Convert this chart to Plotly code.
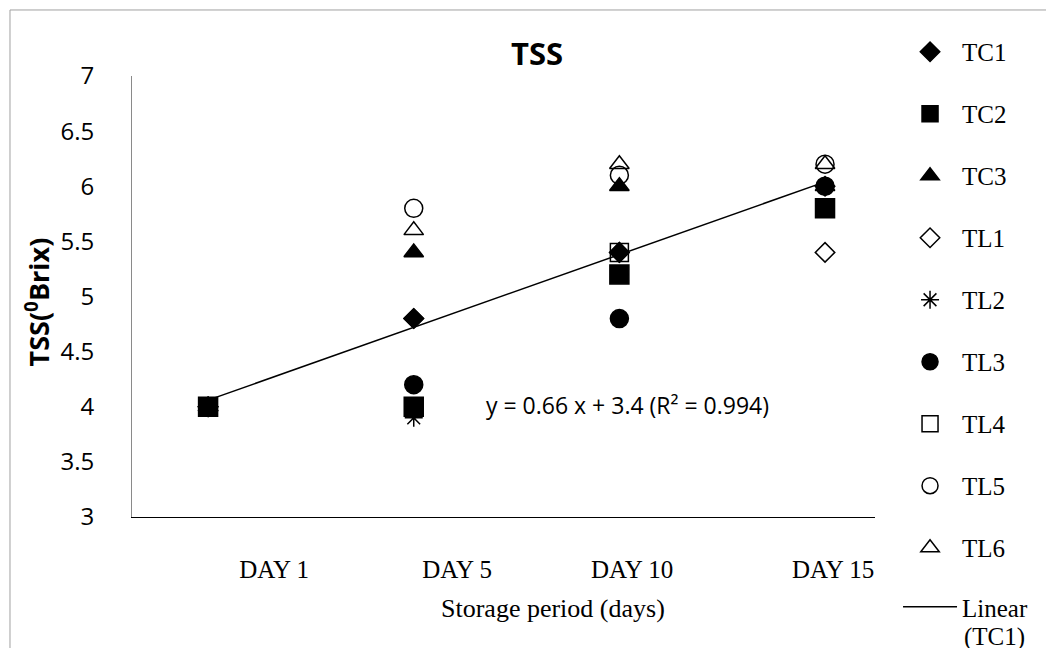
import numpy as np
import plotly.graph_objects as go

# ---- data ----
days = [1, 2, 3, 4]                      # numeric positions of the four sampling days
day_labels = ["DAY 1", "DAY 5", "DAY 10", "DAY 15"]
series_names = ["TC1", "TC2", "TC3", "TL1", "TL2", "TL3", "TL4", "TL5", "TL6"]
TC1 = [4.0, 4.8, 5.4, 6.0]
TC2 = [4.0, 4.0, 5.2, 5.8]
TC3 = [4.0, 5.4, 6.0, 6.0]
TL1 = [4.0, 4.8, 5.4, 5.4]
TL2 = [4.0, 3.9, 5.2, 5.8]
TL3 = [4.0, 4.2, 4.8, 6.0]
TL4 = [4.0, 4.0, 5.4, 5.8]
TL5 = [4.0, 5.8, 6.1, 6.2]
TL6 = [4.0, 5.6, 6.2, 6.2]
y_ticks = [3, 3.5, 4, 4.5, 5, 5.5, 6, 6.5, 7]
equation_text = "y = 0.66 x + 3.4 (R² = 0.994)"
trend_name = "Linear"
trend_suffix = "(TC1)"

# ---- styling (not data) ----
values = [TC1, TC2, TC3, TL1, TL2, TL3, TL4, TL5, TL6]
symbols = ["diamond", "square", "triangle-up", "diamond-open", "asterisk-open",
           "circle", "square-open", "circle-open", "triangle-up-open"]
sizes = [15, 19, 17, 15, 15, 18, 18, 18, 17]
day_label_pos = [1.321, 2.211, 3.062, 4.039]

fig = go.Figure()
for i, (name, vals) in enumerate(zip(series_names, values)):
    fig.add_trace(go.Scatter(
        x=days, y=vals, mode="markers", name=name, legendgroup=name,
        legend="legend",
        marker=dict(symbol=symbols[i], size=sizes[i], color="black",
                    line=dict(color="black", width=1.5)),
    ))

# Linear trend of TC1 (least squares through the TC1 points)
slope, intercept = np.polyfit(days, TC1, 1)
xs = np.array([days[0], days[-1]])
fig.add_trace(go.Scatter(
    x=xs, y=slope * xs + intercept, mode="lines", name=trend_name,
    legendgroup="lin", legend="legend2", line=dict(color="black", width=1.5),
))

legend_font = dict(family="Liberation Serif", size=25, color="black")
fig.update_layout(
    width=1046, height=640,
    margin=dict(l=124, r=179, t=68, b=131, autoexpand=False),
    paper_bgcolor="white", plot_bgcolor="white",
    showlegend=True,
    legend=dict(x=1.031, xanchor="left", y=1.1066, yanchor="top",
                font=legend_font, tracegroupgap=26.5, traceorder="grouped",
                itemsizing="trace", itemwidth=54, valign="top", maxheight=1500,
                bgcolor="rgba(0,0,0,0)"),
    legend2=dict(x=1.031, xanchor="left", y=-0.152, yanchor="top",
                 font=legend_font, itemsizing="trace", itemwidth=54,
                 valign="top", bgcolor="rgba(0,0,0,0)"),
    xaxis=dict(range=[0.63, 4.243], tickmode="array", tickvals=day_label_pos,
               ticktext=day_labels, showgrid=False, zeroline=False,
               showline=True, linecolor="black", linewidth=1, ticks="",
               ticklabelstandoff=30,
               tickfont=dict(family="Liberation Serif", size=25, color="black")),
    yaxis=dict(range=[3, 7], tickmode="array", tickvals=y_ticks,
               ticktext=[f"{v:g}" for v in y_ticks], showgrid=False,
               zeroline=False, showline=True, linecolor="#8a8a8a", linewidth=1,
               ticks="", ticklabelstandoff=32,
               tickfont=dict(family="Open Sans", size=24, color="black")),
    annotations=[
        dict(text="<b>TSS</b>", xref="paper", yref="paper", x=0.545, y=1.052,
             xanchor="center", yanchor="middle", showarrow=False,
             font=dict(family="Open Sans", size=31, color="black")),
        dict(text="Storage period (days)", xref="paper", yref="paper", x=0.567,
             y=-0.207, xanchor="center", yanchor="middle", showarrow=False,
             font=dict(family="Liberation Serif", size=26, color="black")),
        dict(text="<b>TSS(<sup>0</sup>Brix)</b>", xref="paper", yref="paper",
             x=-0.127, y=0.488, xanchor="center", yanchor="middle",
             textangle=-90, showarrow=False,
             font=dict(family="Open Sans", size=27, color="black")),
        dict(text=equation_text, xref="x", yref="y", x=3.04, y=4.02,
             showarrow=False, font=dict(family="Open Sans", size=23, color="black")),
        dict(text=trend_suffix, xref="paper", yref="paper", x=1.117, y=-0.272,
             xanchor="left", yanchor="middle", showarrow=False,
             font=legend_font),
    ],
    shapes=[
        dict(type="rect", xref="paper", yref="paper", x0=-0.1642, x1=1.5,
             y0=-0.6, y1=1.1497, line=dict(color="#a0a0a0", width=1),
             fillcolor="rgba(0,0,0,0)", layer="below"),
    ],
)

fig.write_html("out.html")
